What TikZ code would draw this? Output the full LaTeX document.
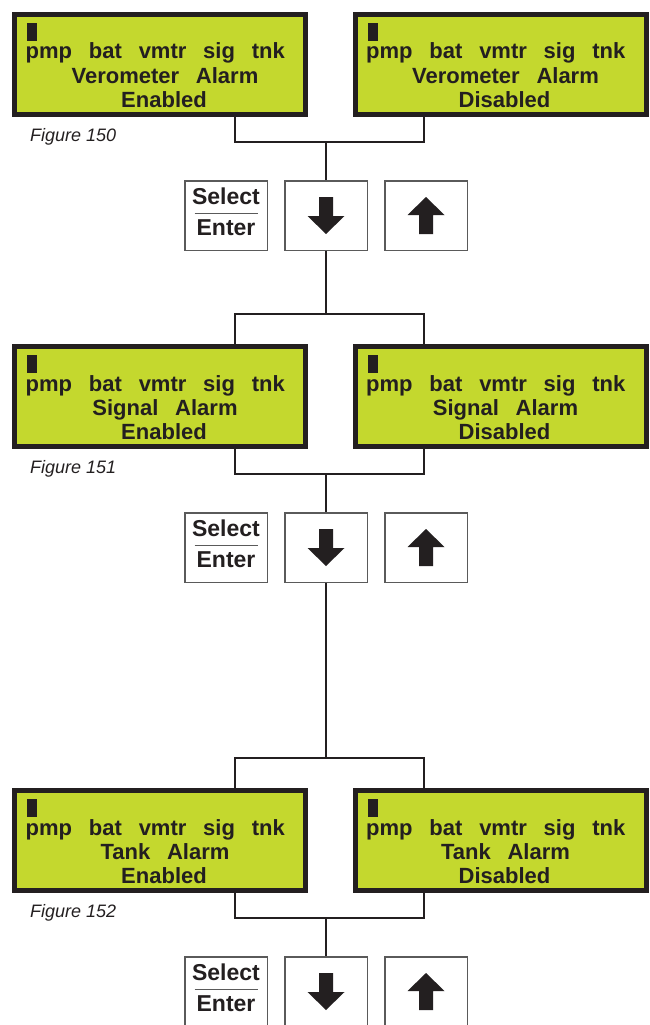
\documentclass[tikz,border=0pt]{standalone}
\usepackage{fontspec}
\setmainfont{Liberation Sans}
\newfontfamily\lcdfont[WordSpace=2.75]{Liberation Sans}
\usepackage{tikz}
\usetikzlibrary{calc}
\definecolor{lcdgreen}{RGB}{196,216,46}
\definecolor{inkblack}{RGB}{35,31,32}
\definecolor{keygray}{RGB}{90,90,90}

\begin{document}
\begin{tikzpicture}[x=1pt, y=-1pt,
  lcd/.style={draw=inkblack, fill=lcdgreen, line width=5pt,
    minimum width=291pt, minimum height=100pt, inner sep=0pt},
  lcdtext/.style={font=\lcdfont\bfseries\fontsize{22}{24}\selectfont,
    text=inkblack, inner sep=0pt},
  key/.style={draw=keygray, line width=1.5pt, fill=white,
    minimum width=82.5pt, minimum height=69.5pt, inner sep=0pt},
  keytext/.style={font=\bfseries\fontsize{23}{25}\selectfont,
    text=inkblack, inner sep=0pt},
  figtext/.style={font=\itshape\fontsize{18}{20}\selectfont,
    text=inkblack, inner sep=0pt},
  wire/.style={draw=inkblack, line width=2.75pt}]
  \useasboundingbox (0,0) rectangle (650,1025);
  \clip (0,0) rectangle (650,1025);

  \foreach \i/\top/\sensor in {0/6/Verometer, 1/338/Signal, 2/782/Tank} {
    \pgfmathtruncatemacro\fignum{150+\i}

    % LCD screens
    \node[lcd] (lcdL\i) at (160, \top+58.5) {};
    \node[lcd] (lcdR\i) at (500.5, \top+58.5) {};
    \foreach \side/\st in {L/Enabled, R/Disabled} {
      \fill[inkblack] ($(lcd\side\i.north west)+(15,11)$) rectangle +(10,18);
      \node[lcdtext, anchor=base west] (tabs\side\i)
        at ($(lcd\side\i.north west)+(13.5,47)$) {pmp bat vmtr sig tnk};
      \node[lcdtext, anchor=base] (alarm\side\i)
        at ($(lcd\side\i.north west)+(153,71)$) {\sensor\ Alarm};
      \node[lcdtext, anchor=base] (state\side\i)
        at ($(lcd\side\i.north west)+(152,95)$) {\st};
    }
    \node[figtext, anchor=base west] (fig\i)
      at ($(lcdL\i.south west)+(18,24)$) {Figure \fignum};

    % Lines into the screens
    \ifnum\i>0
      \pgfmathtruncatemacro\prev{\i-1}
      \coordinate (ja\i) at (326, \top-24);
      \draw[wire] (dn\prev.south) -- (ja\i);
      \draw[wire] ([xshift=75pt]lcdL\i.north) |- (ja\i)
        -| ([xshift=-76.5pt]lcdR\i.north);
    \fi

    % Keys
    \node[key] (sel\i) at (226, \top+209.5) {};
    \node[key] (dn\i) at (326, \top+209.5) {};
    \node[key] (up\i) at (426, \top+209.5) {};
    \node[keytext, anchor=base] (selT\i) at ($(sel\i.north)+(0,24)$) {Select};
    \node[keytext, anchor=base] (entT\i) at ($(sel\i.north)+(0,55)$) {Enter};
    \draw[keygray, line width=1pt] ($(sel\i.north)+(-31.5,33)$) -- ++(63,0);
    \fill[inkblack, shift={(dn\i.center)}] (-7,-18.5) -- (7,-18.5)
      -- (7,0.5) -- (18.5,0.5) -- (0,18.5) -- (-18.5,0.5) -- (-7,0.5) -- cycle;
    \fill[inkblack, shift={(up\i.center)}] (-7,18.5) -- (7,18.5)
      -- (7,-0.5) -- (18.5,-0.5) -- (0,-18.5) -- (-18.5,-0.5) -- (-7,-0.5) -- cycle;

    % Lines out of the screens
    \coordinate (jb\i) at (326, \top+136);
    \draw[wire] ([xshift=75pt]lcdL\i.south) |- (jb\i)
      -| ([xshift=-76.5pt]lcdR\i.south);
    \draw[wire] (jb\i) -- (dn\i.north);
  }
\end{tikzpicture}
\end{document}
